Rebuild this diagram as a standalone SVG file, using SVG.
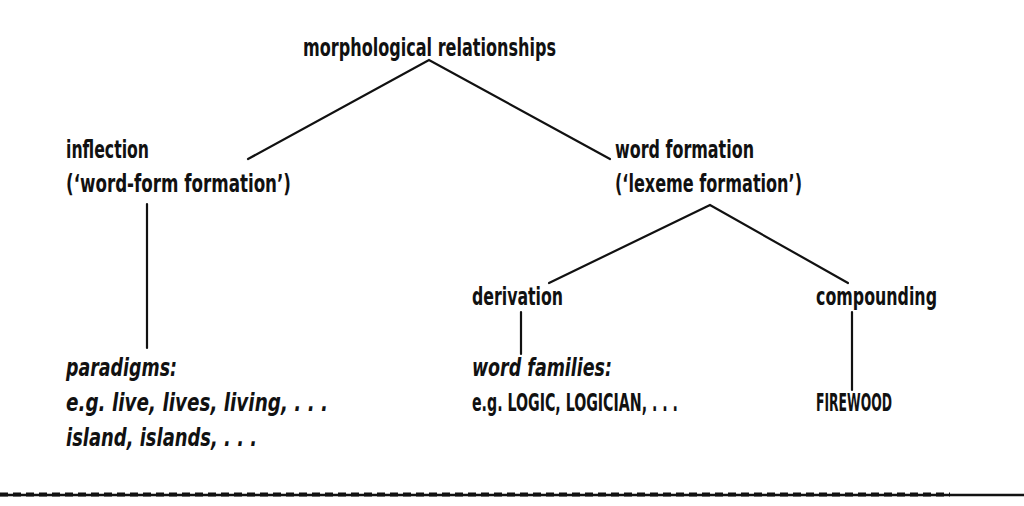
<svg xmlns="http://www.w3.org/2000/svg" width="1024" height="506" viewBox="0 0 1024 506">
<style>
text{font-family:"Liberation Sans Narrow","DejaVu Sans Condensed","Liberation Sans",sans-serif;font-size:25px;font-weight:bold;fill:#111;}
.it{font-style:italic;}
.ln{stroke:#111;stroke-width:2.2;fill:none;stroke-linecap:round;}
</style>
<rect width="1024" height="506" fill="#fff"/>
<g id="root"><text x="303" y="56" textLength="253" lengthAdjust="spacingAndGlyphs">morphological relationships</text></g>
<g id="inflection">
<text x="66" y="158" textLength="83" lengthAdjust="spacingAndGlyphs">inflection</text>
<text x="66" y="192" textLength="225" lengthAdjust="spacingAndGlyphs">(‘word-form formation’)</text>
</g>
<g id="wordformation">
<text x="615" y="158" textLength="139" lengthAdjust="spacingAndGlyphs">word formation</text>
<text x="615" y="192" textLength="187" lengthAdjust="spacingAndGlyphs">(‘lexeme formation’)</text>
</g>
<g id="derivation"><text x="472" y="305" textLength="91" lengthAdjust="spacingAndGlyphs">derivation</text></g>
<g id="compounding"><text x="816" y="305" textLength="121" lengthAdjust="spacingAndGlyphs">compounding</text></g>
<g id="paradigms">
<text class="it" x="66" y="376" textLength="111" lengthAdjust="spacingAndGlyphs">paradigms:</text>
<text class="it" x="66" y="411" textLength="262" lengthAdjust="spacingAndGlyphs">e.g. live, lives, living, . . .</text>
<text class="it" x="66" y="446" textLength="191" lengthAdjust="spacingAndGlyphs">island, islands, . . .</text>
</g>
<g id="wordfamilies">
<text class="it" x="472" y="376" textLength="140" lengthAdjust="spacingAndGlyphs">word families:</text>
<text x="472" y="411" font-size="19" textLength="206" lengthAdjust="spacingAndGlyphs">e.g. LOGIC, LOGICIAN, . . .</text>
</g>
<g id="firewood"><text x="816" y="411" font-size="17" textLength="76" lengthAdjust="spacingAndGlyphs">FIREWOOD</text></g>
<g id="connectors">
<polyline class="ln" points="248,159 429,60 610,159"/>
<polyline class="ln" points="549,283 710,205 848,283"/>
<line class="ln" x1="147" y1="204" x2="147" y2="348"/>
<line class="ln" x1="521" y1="312" x2="521" y2="354"/>
<line class="ln" x1="852" y1="312" x2="852" y2="390"/>
</g>
<g id="rule">
<line x1="0" y1="495" x2="1024" y2="495" stroke="#111" stroke-width="2.5"/>
<line x1="0" y1="494.5" x2="950" y2="494.5" stroke="#111" stroke-width="4" stroke-dasharray="8 5"/>
</g>
</svg>
